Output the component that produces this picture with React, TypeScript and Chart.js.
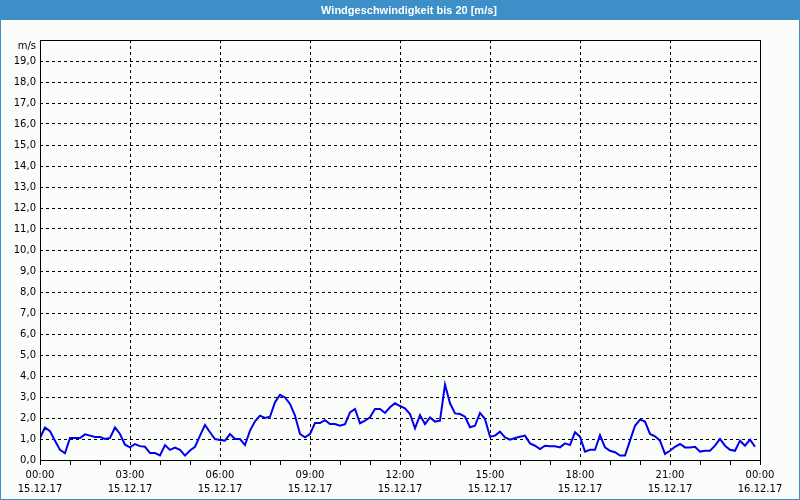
import React, { useEffect, useRef } from 'react';
import { Chart, registerables } from 'chart.js';

Chart.register(...registerables);

const TITLE = 'Windgeschwindigkeit bis 20 [m/s]';
const UNIT = 'm/s';
const START_DATE = '15.12.17';
const END_DATE = '16.12.17';
const STEP_MINUTES = 10;
const X_MAX_HOURS = 24;
const X_LABEL_EVERY = 3;
const Y_MAX = 20;

// wind speed in m/s, one value every 10 minutes from 00:00 to 23:50
const windSpeed = [
  1.05, 1.55, 1.37, 0.92, 0.48, 0.32, // 00
  1.05, 1.05, 1.05, 1.22, 1.16, 1.10, // 01
  1.10, 1.00, 1.05, 1.55, 1.24, 0.73, // 02
  0.60, 0.76, 0.66, 0.63, 0.33, 0.33, // 03
  0.22, 0.71, 0.48, 0.59, 0.48, 0.21, // 04
  0.45, 0.63, 1.16, 1.67, 1.32, 1.00, // 05
  0.95, 0.92, 1.24, 1.00, 1.00, 0.71, // 06
  1.40, 1.84, 2.11, 2.00, 2.06, 2.75, // 07
  3.10, 2.98, 2.67, 2.11, 1.24, 1.08, // 08
  1.24, 1.76, 1.76, 1.90, 1.71, 1.71, // 09
  1.63, 1.71, 2.27, 2.43, 1.75, 1.87, // 10
  2.03, 2.43, 2.43, 2.24, 2.51, 2.70, // 11
  2.57, 2.46, 2.19, 1.51, 2.14, 1.71, // 12
  2.03, 1.83, 1.87, 3.59, 2.70, 2.22, // 13
  2.19, 2.06, 1.56, 1.63, 2.24, 1.95, // 14
  1.11, 1.16, 1.35, 1.08, 0.97, 1.05, // 15
  1.11, 1.16, 0.79, 0.68, 0.52, 0.68, // 16
  0.65, 0.65, 0.60, 0.79, 0.71, 1.32, // 17
  1.11, 0.40, 0.49, 0.49, 1.19, 0.60, // 18
  0.44, 0.37, 0.21, 0.21, 0.92, 1.63, // 19
  1.92, 1.83, 1.24, 1.13, 0.92, 0.29, // 20
  0.44, 0.63, 0.76, 0.60, 0.60, 0.63, // 21
  0.40, 0.44, 0.44, 0.68, 1.00, 0.68, // 22
  0.49, 0.44, 0.92, 0.68, 0.97, 0.63, // 23
];

const FRAME_BLUE = '#3c8fc7';
const FONT = '"DejaVu Sans", sans-serif';

export default function App() {
  const ref = useRef<HTMLCanvasElement>(null);

  useEffect(() => {
    document.body.style.margin = '0';
    const canvas = ref.current;
    if (!canvas) return;

    const points = windSpeed.map((v, i) => ({ x: (i * STEP_MINUTES) / 60, y: v }));

    const framePlugin = {
      id: 'frame',
      beforeDraw(chart: any) {
        const { ctx, width, height } = chart;
        ctx.save();
        ctx.fillStyle = '#fbfdfb';
        ctx.fillRect(0, 0, width, height);
        ctx.fillStyle = FRAME_BLUE;
        ctx.fillRect(0, 0, width, 20);
        ctx.strokeStyle = FRAME_BLUE;
        ctx.lineWidth = 1;
        ctx.strokeRect(0.5, 0.5, width - 1, height - 1);
        ctx.fillStyle = '#ffffff';
        ctx.font = 'bold 11px "Liberation Sans", sans-serif';
        ctx.textAlign = 'center';
        ctx.textBaseline = 'middle';
        ctx.fillText(TITLE, 409, 11);
        ctx.restore();
      },
      afterDraw(chart: any) {
        const { ctx, chartArea: a } = chart;
        ctx.save();
        ctx.strokeStyle = '#000';
        ctx.lineWidth = 1;
        ctx.setLineDash([]);
        ctx.strokeRect(
          Math.round(a.left) + 0.5,
          Math.round(a.top) + 0.5,
          Math.round(a.right) - Math.round(a.left),
          Math.round(a.bottom) - Math.round(a.top)
        );
        ctx.fillStyle = '#000';
        ctx.font = '10px ' + FONT;
        ctx.textAlign = 'right';
        ctx.textBaseline = 'middle';
        ctx.fillText(UNIT, a.left - 4, a.top + 6);
        ctx.restore();
      },
    };

    const chart = new Chart(canvas, {
      type: 'line',
      data: {
        datasets: [
          {
            data: points,
            borderColor: '#0000ee',
            borderWidth: 2,
            pointRadius: 0,
            tension: 0,
            fill: false,
          },
        ],
      },
      options: {
        responsive: false,
        animation: false,
        devicePixelRatio: 1,
        parsing: true,
        layout: { padding: { left: 0, right: 40, top: 40, bottom: 0 } },
        plugins: {
          legend: { display: false },
          title: { display: false },
          tooltip: { enabled: false },
        },
        scales: {
          x: {
            type: 'linear',
            min: 0,
            max: X_MAX_HOURS,
            afterFit(scale: any) {
              scale.height = 40;
            },
            ticks: {
              stepSize: 1,
              autoSkip: false,
              maxRotation: 0,
              minRotation: 0,
              padding: 3,
              color: '#000',
              font: { family: FONT, size: 10, lineHeight: 1.4 },
              callback(value: any) {
                const h = Number(value);
                if (h % X_LABEL_EVERY !== 0) return '';
                const hh = String(h % 24).padStart(2, '0') + ':00';
                return [hh, h >= 24 ? END_DATE : START_DATE];
              },
            },
            grid: {
              color: (c: any) =>
                c.tick && c.tick.value % X_LABEL_EVERY === 0 ? '#000' : 'rgba(0,0,0,0)',
              tickColor: '#000',
              tickLength: 5,
              drawTicks: true,
              lineWidth: 1,
            },
            border: { display: false, dash: [3, 3] },
          },
          y: {
            type: 'linear',
            min: 0,
            max: Y_MAX,
            afterFit(scale: any) {
              scale.width = 40;
            },
            ticks: {
              stepSize: 1,
              autoSkip: false,
              padding: 4,
              color: '#000',
              font: { family: FONT, size: 10 },
              callback(value: any) {
                const v = Number(value);
                if (v === Y_MAX) return '';
                return v.toFixed(1).replace('.', ',');
              },
            },
            grid: {
              color: '#000',
              drawTicks: false,
              lineWidth: 1,
            },
            border: { display: false, dash: [3, 3] },
          },
        },
      },
      plugins: [framePlugin],
    });

    return () => chart.destroy();
  }, []);

  return (
    <div style={{ position: 'fixed', left: 0, top: 0, width: 800, height: 500 }}>
      <canvas ref={ref} width={800} height={500} style={{ display: 'block' }} />
    </div>
  );
}
